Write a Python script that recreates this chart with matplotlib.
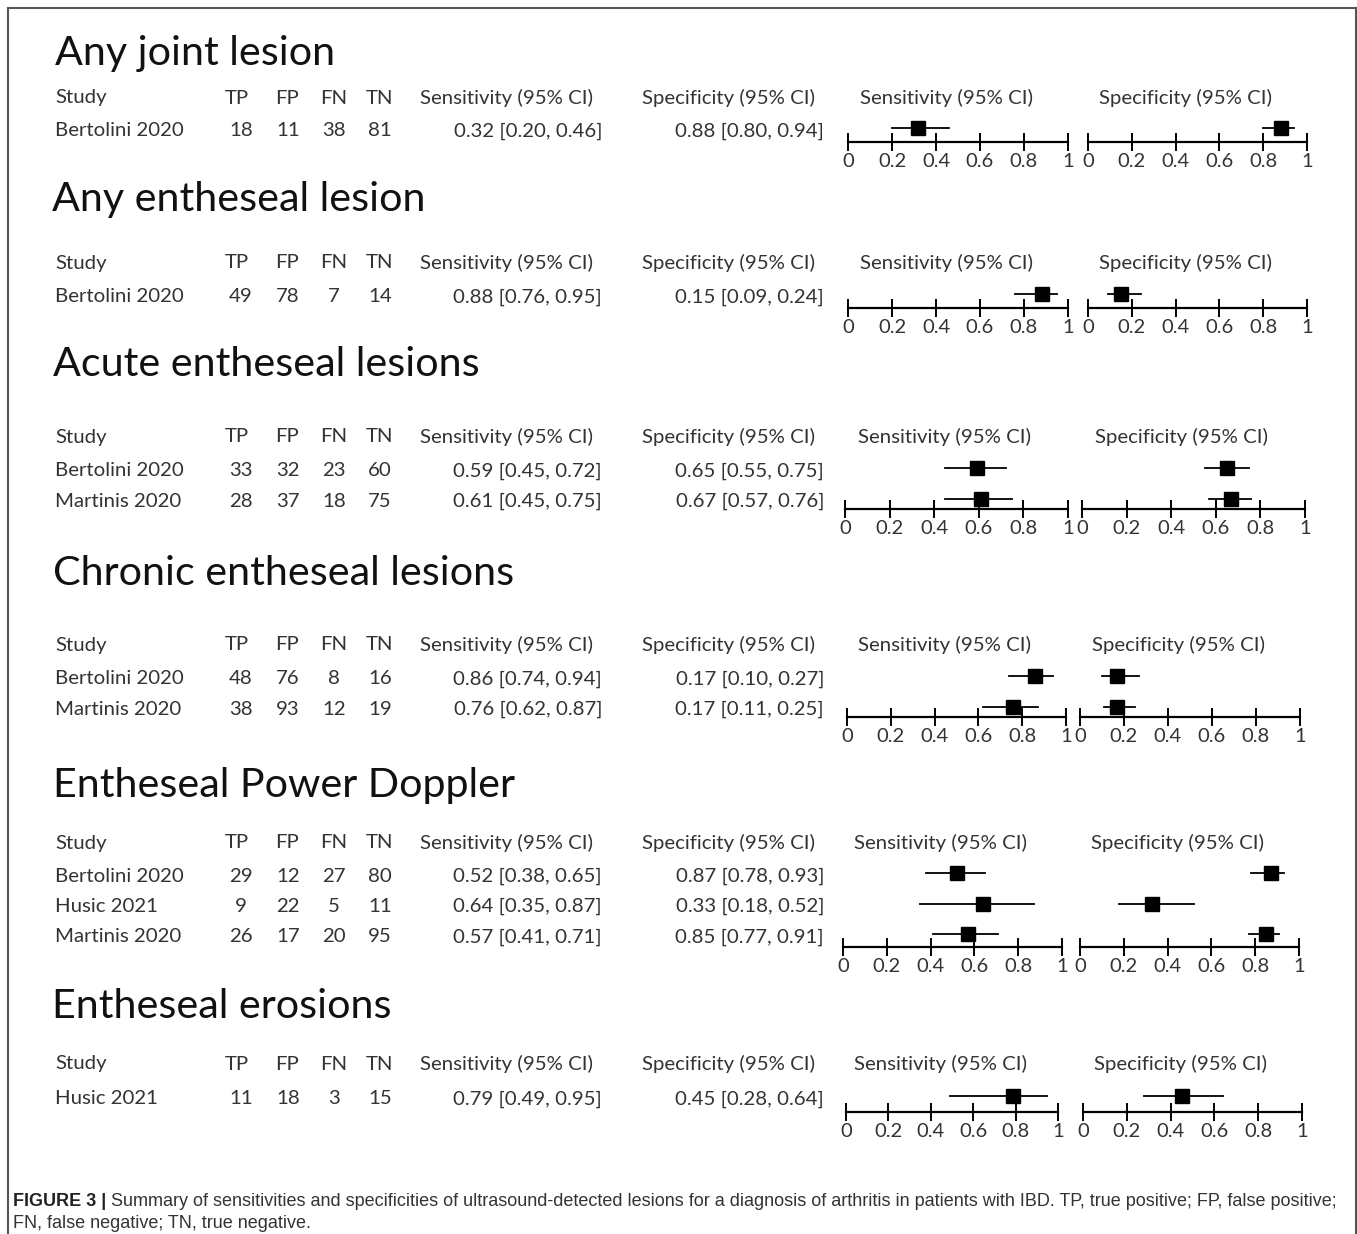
import matplotlib
matplotlib.use("Agg")
import matplotlib.pyplot as plt
from matplotlib.lines import Line2D

# --- data -------------------------------------------------------------
titles = ["Any joint lesion", "Any entheseal lesion", "Acute entheseal lesions",
          "Chronic entheseal lesions", "Entheseal Power Doppler", "Entheseal erosions"]
studies = [["Bertolini 2020"],
           ["Bertolini 2020"],
           ["Bertolini 2020", "Martinis 2020"],
           ["Bertolini 2020", "Martinis 2020"],
           ["Bertolini 2020", "Husic 2021", "Martinis 2020"],
           ["Husic 2021"]]
tp = [[18], [49], [33, 28], [48, 38], [29, 9, 26], [11]]
fp = [[11], [78], [32, 37], [76, 93], [12, 22, 17], [18]]
fn = [[38], [7], [23, 18], [8, 12], [27, 5, 20], [3]]
tn = [[81], [14], [60, 75], [16, 19], [80, 11, 95], [15]]
sens = [[0.32], [0.88], [0.59, 0.61], [0.86, 0.76], [0.52, 0.64, 0.57], [0.79]]
sens_lo = [[0.20], [0.76], [0.45, 0.45], [0.74, 0.62], [0.38, 0.35, 0.41], [0.49]]
sens_hi = [[0.46], [0.95], [0.72, 0.75], [0.94, 0.87], [0.65, 0.87, 0.71], [0.95]]
spec = [[0.88], [0.15], [0.65, 0.67], [0.17, 0.17], [0.87, 0.33, 0.85], [0.45]]
spec_lo = [[0.80], [0.09], [0.55, 0.57], [0.10, 0.11], [0.78, 0.18, 0.77], [0.28]]
spec_hi = [[0.94], [0.24], [0.75, 0.76], [0.27, 0.25], [0.93, 0.52, 0.91], [0.64]]
tick_vals = [0, 0.2, 0.4, 0.6, 0.8, 1]
tick_labels = ["0", "0.2", "0.4", "0.6", "0.8", "1"]
caption_bold = "FIGURE 3 |"
caption_1 = (" Summary of sensitivities and specificities of ultrasound-detected lesions "
             "for a diagnosis of arthritis in patients with IBD. TP, true positive; FP, false positive;")
caption_2 = "FN, false negative; TN, true negative."

# --- layout (pixels) ---------------------------------------------------
W, H = 1357, 1234
title_y = [53, 200, 365, 574, 786, 1006]
title_x = [55, 52, 53, 53, 53, 52]
header_y = [98, 263, 437, 645, 843, 1064]
row0_y = [131, 297, 471, 679, 876, 1099]
axis_y = [142, 308, 509, 717, 947, 1112]
sens_x = [(848, 1068), (848, 1068), (845, 1068), (847, 1066), (843, 1062), (846, 1058)]
spec_x = [(1088, 1307), (1088, 1307), (1082, 1305), (1080, 1300), (1080, 1299), (1083, 1302)]
ROW_H = 30.5
GREY = "#333333"
TXT = 14.7

plt.rcParams["font.family"] = ["Lato", "DejaVu Sans"]
fig = plt.figure(figsize=(W / 100, H / 100), dpi=100)


def put(x, y, s, **kw):
    kw.setdefault("va", "center")
    return fig.text(x / W, 1 - y / H, s, **kw)


def forest(x0, x1, ay, r0, est, lo, hi):
    top = r0 - 20
    ax = fig.add_axes([x0 / W, 1 - ay / H, (x1 - x0) / W, (ay - top) / H])
    ax.set_xlim(0, 1)
    ax.set_ylim(-(ay - r0) / ROW_H, (r0 - top) / ROW_H)
    for i in range(len(est)):
        yy = -i + 3 / ROW_H
        ax.plot([lo[i], hi[i]], [yy, yy], color="black", lw=1.3, clip_on=False)
        ax.plot(est[i], yy, "s", color="black", ms=10.5, clip_on=False)
    for side in ["left", "right", "top"]:
        ax.spines[side].set_visible(False)
    ax.spines["bottom"].set_linewidth(1.6)
    ax.set_yticks([])
    ax.set_xticks(tick_vals)
    ax.set_xticklabels(tick_labels)
    ax.tick_params(axis="x", direction="inout", length=12.5, width=1.4,
                   pad=2, labelsize=14.5, labelcolor=GREY)
    ax.patch.set_alpha(0)


for k in range(len(titles)):
    put(title_x[k], title_y[k], titles[k], fontsize=29.7, color="#111111")
    hy = header_y[k]
    put(55, hy, "Study", fontsize=TXT, color=GREY)
    for cx, lab in zip([237, 287, 334, 379], ["TP", "FP", "FN", "TN"]):
        put(cx, hy, lab, fontsize=TXT, color=GREY, ha="center")
    put(506, hy, "Sensitivity (95% CI)", fontsize=TXT, color=GREY, ha="center")
    put(728, hy, "Specificity (95% CI)", fontsize=TXT, color=GREY, ha="center")
    put((sens_x[k][0] + sens_x[k][1]) / 2 - 12, hy, "Sensitivity (95% CI)",
        fontsize=TXT, color=GREY, ha="center")
    put((spec_x[k][0] + spec_x[k][1]) / 2 - 12, hy, "Specificity (95% CI)",
        fontsize=TXT, color=GREY, ha="center")
    for i, name in enumerate(studies[k]):
        ry = row0_y[k] + i * ROW_H
        put(55, ry, name, fontsize=TXT, color=GREY)
        for cx, v in zip([241, 288, 334, 380], [tp[k][i], fp[k][i], fn[k][i], tn[k][i]]):
            put(cx, ry, str(v), fontsize=TXT, color=GREY, ha="center")
        put(602, ry, f"{sens[k][i]:.2f} [{sens_lo[k][i]:.2f}, {sens_hi[k][i]:.2f}]",
            fontsize=TXT, color=GREY, ha="right")
        put(824, ry, f"{spec[k][i]:.2f} [{spec_lo[k][i]:.2f}, {spec_hi[k][i]:.2f}]",
            fontsize=TXT, color=GREY, ha="right")
    forest(*sens_x[k], axis_y[k], row0_y[k], sens[k], sens_lo[k], sens_hi[k])
    forest(*spec_x[k], axis_y[k], row0_y[k], spec[k], spec_lo[k], spec_hi[k])

# frame (left, top, right)
frame = dict(color="#555555", lw=1.5, transform=fig.transFigure)
fig.add_artist(Line2D([8 / W, 8 / W], [0, 1 - 8 / H], **frame))
fig.add_artist(Line2D([8 / W, 1356 / W], [1 - 8 / H, 1 - 8 / H], **frame))
fig.add_artist(Line2D([1356 / W, 1356 / W], [1 - 8 / H, 0], **frame))

# caption
cap_font = ["Liberation Sans Narrow", "Liberation Sans", "DejaVu Sans"]
CAP = 13.0
b = put(13, 1202, caption_bold, fontsize=CAP, fontweight="bold", family=cap_font, color="#222222")
fig.canvas.draw()
bb = b.get_window_extent()
fig.text(bb.x1 / W, 1 - 1202 / H, caption_1, fontsize=CAP, family=cap_font,
         color="#333333", va="center")
put(13, 1224, caption_2, fontsize=CAP, family=cap_font, color="#333333")

fig.savefig("out.png", dpi=100, facecolor="white")
